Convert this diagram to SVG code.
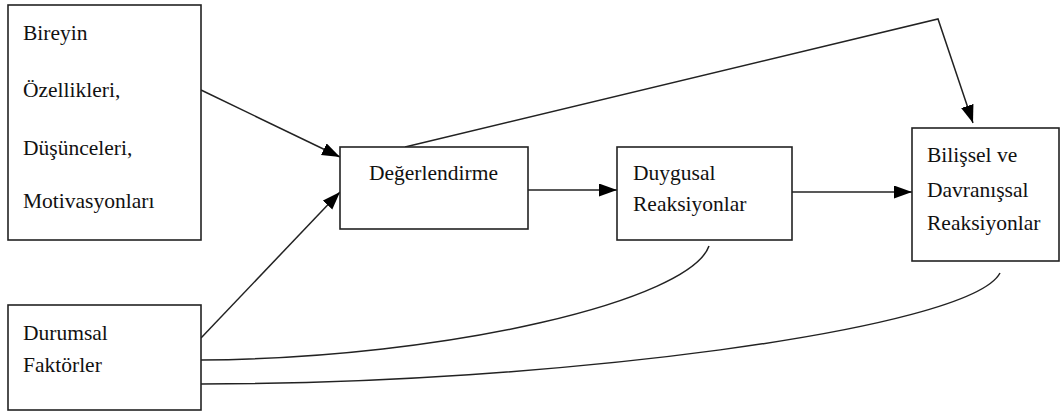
<svg xmlns="http://www.w3.org/2000/svg" width="1061" height="413" viewBox="0 0 1061 413">
<style>
.box{fill:#fff;stroke:#222;stroke-width:1.6}
.c{fill:none;stroke:#222;stroke-width:1.5}
</style>
<defs>
<marker id="ah" markerUnits="userSpaceOnUse" markerWidth="19" markerHeight="14" refX="18" refY="6.5" orient="auto">
<path d="M0,0 L18,6.5 L0,13 z" fill="#000"/>
</marker>
</defs>
<rect width="1061" height="413" fill="#fff"/>
<g id="connectors">
<path class="c" d="M201,90 L340,157" marker-end="url(#ah)"/>
<path class="c" d="M201,338 L340,192" marker-end="url(#ah)"/>
<path class="c" d="M528,190 L617,190" marker-end="url(#ah)"/>
<path class="c" d="M792,192 L912,192" marker-end="url(#ah)"/>
<path class="c" d="M405,147 L938,19 L973,123" marker-end="url(#ah)"/>
<path class="c" d="M201,360 C450,358 690,300 709,246"/>
<path class="c" d="M201,384 C550,384 970,330 1000,273"/>
</g>
<g font-family="Liberation Serif, Tinos, Times New Roman, DejaVu Serif, serif" font-size="21.5" fill="#111">
<g id="node-bireyin">
<rect class="box" x="8" y="5" width="193" height="235"/>
<text x="23" y="40">Bireyin</text>
<text x="23" y="97">Özellikleri,</text>
<text x="23" y="155">Düşünceleri,</text>
<text x="23" y="208">Motivasyonları</text>
</g>
<g id="node-durumsal">
<rect class="box" x="8" y="305" width="193" height="105"/>
<text x="23" y="340">Durumsal</text>
<text x="23" y="372">Faktörler</text>
</g>
<g id="node-degerlendirme">
<rect class="box" x="340" y="147" width="188" height="82"/>
<text x="369" y="180">Değerlendirme</text>
</g>
<g id="node-duygusal">
<rect class="box" x="617" y="147" width="175" height="93"/>
<text x="633" y="180">Duygusal</text>
<text x="633" y="211">Reaksiyonlar</text>
</g>
<g id="node-bilissel">
<rect class="box" x="912" y="128" width="147" height="133"/>
<text x="927" y="162">Bilişsel ve</text>
<text x="927" y="197">Davranışsal</text>
<text x="927" y="230">Reaksiyonlar</text>
</g>
</g>
</svg>
